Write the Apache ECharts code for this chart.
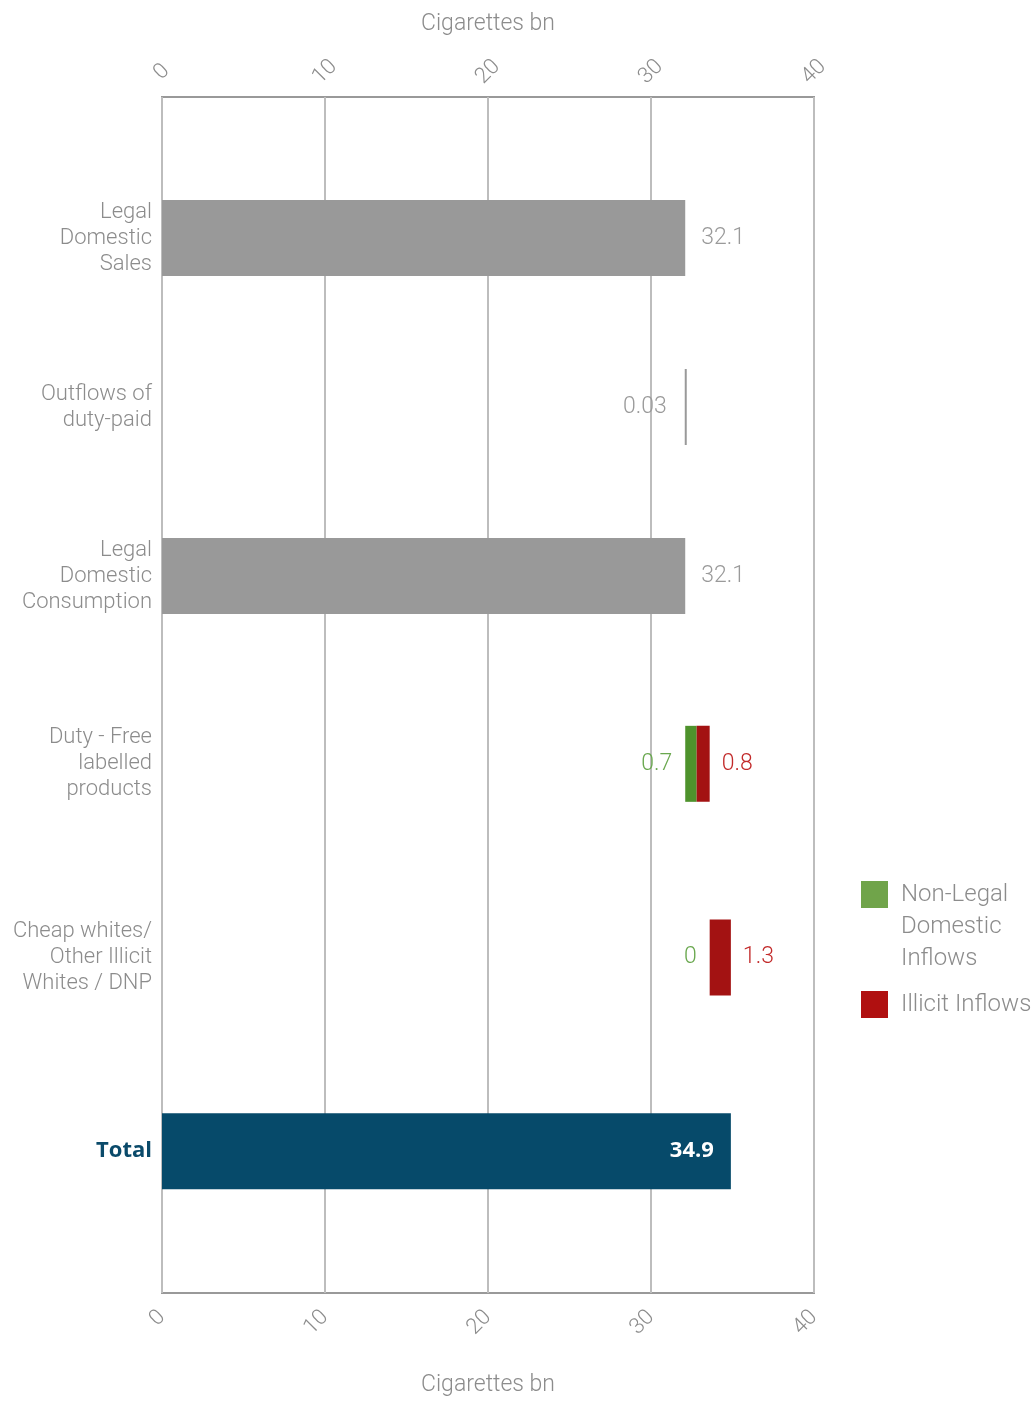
<!DOCTYPE html>
<html>
<head>
<meta charset="utf-8">
<script src="https://cdn.jsdelivr.net/npm/echarts@6/dist/echarts.min.js"></script>
<style>
html,body{margin:0;padding:0;background:#fff;}
#chart{width:1035px;height:1402px;}
</style>
</head>
<body>
<div id="chart"></div>
<script>
// ---- data ----
const categories = ['Legal\nDomestic\nSales', 'Outflows of\nduty-paid', 'Legal\nDomestic\nConsumption', 'Duty - Free\nlabelled\nproducts', 'Cheap whites/\nOther Illicit\nWhites / DNP', 'Total'];
const legalValues = [32.1, 0.03, 32.1, null, null, null];
const nonLegalValues = [null, null, null, 0.7, 0, null];
const illicitValues = [null, null, null, 0.8, 1.3, null];
const totalValues = [null, null, null, null, null, 34.9];
const axisTicks = [0, 10, 20, 30, 40];
const axisName = 'Cigarettes bn';

// invisible waterfall offsets derived from the values
const baseValues = [0, 32.1 - 0.03, 0, 32.1, 32.1 + 0.7 + 0.8, 0];

const FONT = 'Roboto';
const GREY = '#8c8c8c';
const BAR_W = 76;

function buildSeries(axisIdx, start, end) {
  const sl = arr => arr.slice(start, end);
  return [
    {
      name: 'base', type: 'bar', stack: 'w' + axisIdx, xAxisIndex: axisIdx, yAxisIndex: axisIdx - 1,
      data: sl(baseValues), barWidth: BAR_W, itemStyle: { color: 'transparent' }, silent: true
    },
    {
      name: 'Legal', type: 'bar', stack: 'w' + axisIdx, xAxisIndex: axisIdx, yAxisIndex: axisIdx - 1,
      data: sl(legalValues), barWidth: BAR_W, barMinHeight: 2,
      itemStyle: { color: '#999999' },
      label: {
        show: true, position: 'right', distance: 16, color: '#9a9a9a', fontSize: 23, fontWeight: 300,
        formatter: p => String(p.value)
      },
      labelLayout: p => (categories[start + p.dataIndex].startsWith('Outflows') ? { dx: -(p.labelRect.width + 36) } : {})
    },
    {
      name: 'Non-Legal Domestic Inflows', type: 'bar', stack: 'w' + axisIdx, xAxisIndex: axisIdx, yAxisIndex: axisIdx - 1,
      data: sl(nonLegalValues), barWidth: BAR_W,
      itemStyle: { color: '#4e922c' },
      label: { show: true, position: 'left', distance: 13, color: '#6aa84f', fontSize: 23, fontWeight: 300, formatter: p => String(p.value) }
    },
    {
      name: 'Illicit Inflows', type: 'bar', stack: 'w' + axisIdx, xAxisIndex: axisIdx, yAxisIndex: axisIdx - 1,
      data: sl(illicitValues), barWidth: BAR_W,
      itemStyle: { color: '#a31212' },
      label: { show: true, position: 'right', distance: 12, color: '#c22a2a', fontSize: 23, fontWeight: 300, formatter: p => String(p.value) }
    },
    {
      name: 'Total', type: 'bar', stack: 'w' + axisIdx, xAxisIndex: axisIdx, yAxisIndex: axisIdx - 1,
      data: sl(totalValues), barWidth: BAR_W,
      itemStyle: { color: '#064a6a' },
      label: { show: true, position: 'insideRight', distance: 17, color: '#fff', fontSize: 22, fontWeight: 'bold', fontFamily: 'Open Sans', formatter: p => String(p.value) }
    }
  ];
}

function catAxis(gridIndex, cats) {
  return {
    gridIndex, type: 'category', data: cats, inverse: true,
    axisLine: { show: false }, axisTick: { show: false },
    axisLabel: {
      margin: 10, color: GREY, fontSize: 22, fontWeight: 300, lineHeight: 26, align: 'right',
      formatter: v => v === 'Total' ? '{t|Total}' : v,
      rich: { t: { color: '#0a4a6a', fontWeight: 'bold', fontSize: 22, fontFamily: 'Open Sans' } }
    }
  };
}

const chart = echarts.init(document.getElementById('chart'));
const option = {
  backgroundColor: '#fff',
  textStyle: { fontFamily: FONT },
  grid: [
    { left: 162, right: 221, top: 97, bottom: 107, show: true, borderColor: '#999', borderWidth: 2, backgroundColor: 'transparent' },
    { left: 162, right: 221, top: 153.5, bottom: 741.5 },
    { left: 162, right: 221, top: 667, bottom: 154 }
  ],
  legend: [
    {
      data: [{ name: 'Non-Legal Domestic Inflows', itemStyle: { color: '#70a44a' } }],
      orient: 'vertical', left: 861, top: 814.5, padding: 0,
      itemWidth: 27, itemHeight: 27, icon: 'rect',
      formatter: () => '\n\nNon-Legal\nDomestic\nInflows',
      textStyle: { color: GREY, fontSize: 24, fontWeight: 300, lineHeight: 32, padding: [0, 0, 0, 8], fontFamily: FONT }
    },
    {
      data: [{ name: 'Illicit Inflows', itemStyle: { color: '#b01010' } }],
      orient: 'vertical', left: 861, top: 988.5, padding: 0,
      itemWidth: 27, itemHeight: 27, icon: 'rect',
      textStyle: { color: GREY, fontSize: 24, fontWeight: 300, lineHeight: 32, padding: [0, 0, 0, 8], fontFamily: FONT }
    }
  ],
  xAxis: [
    {
      gridIndex: 0, type: 'value', position: 'top', min: 0, max: 40, interval: 10,
      name: axisName, nameLocation: 'middle', nameGap: 61,
      nameTextStyle: { color: GREY, fontSize: 23, fontWeight: 300 },
      axisLine: { show: false }, axisTick: { show: false },
      axisLabel: { rotate: 45, align: 'center', verticalAlign: 'middle', color: GREY, fontSize: 22, fontWeight: 300, margin: 25, formatter: v => axisTicks.includes(v) ? String(v) : '' },
      splitLine: { show: true, lineStyle: { color: '#bdbdbd', width: 2 } }
    },
    {
      gridIndex: 0, type: 'value', position: 'bottom', min: 0, max: 40, interval: 10,
      name: axisName, nameLocation: 'middle', nameGap: 81,
      nameTextStyle: { color: GREY, fontSize: 23, fontWeight: 300 },
      axisLine: { show: false }, axisTick: { show: false },
      axisLabel: { rotate: 45, color: GREY, fontSize: 22, fontWeight: 300, margin: 21, formatter: v => axisTicks.includes(v) ? String(v) : '' },
      splitLine: { show: false }
    },
    { gridIndex: 1, type: 'value', min: 0, max: 40, show: false },
    { gridIndex: 2, type: 'value', min: 0, max: 40, show: false }
  ],
  yAxis: [
    { gridIndex: 0, type: 'value', show: false, min: 0, max: 1 },
    catAxis(1, categories.slice(0, 3)),
    catAxis(2, categories.slice(3, 6))
  ],
  series: [].concat(buildSeries(2, 0, 3), buildSeries(3, 3, 6))
};
chart.setOption(option);
</script>
</body>
</html>
